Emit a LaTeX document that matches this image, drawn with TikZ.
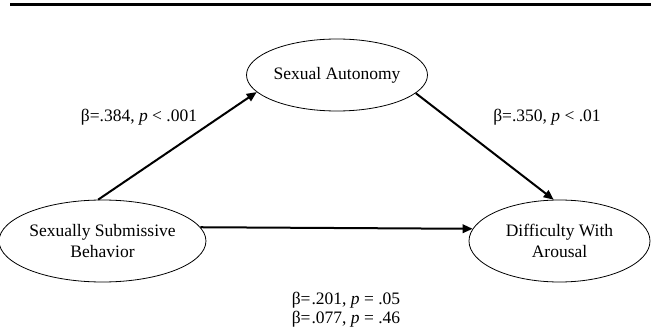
\documentclass[tikz,border=0pt]{standalone}
\usepackage{fontspec}
\setmainfont{Liberation Serif}
\usetikzlibrary{shapes.geometric,arrows.meta}
\begin{document}
\begin{tikzpicture}[x=1pt,y=-1pt,
  latent/.style={ellipse,draw,line width=0.8pt,inner sep=0pt,align=center,
    font=\fontsize{17.5}{21}\selectfont},
  path/.style={line width=2pt,-{Triangle[length=10pt,width=8.5pt]}},
  lbl/.style={font=\fontsize{17.5}{19}\selectfont,align=center,inner sep=0pt}]
\useasboundingbox (0,0) rectangle (651,334);
\fill[white] (0,0) rectangle (651,334);
\coordinate (rl) at (10,5);
\coordinate (rr) at (651,5);
\draw[line width=3pt] (rl) -- (rr);
\node[latent,minimum width=181pt,minimum height=72pt] (sa) at (337,75) {Sexual Autonomy};
\node[latent,minimum width=181pt,minimum height=82pt] (ssb) at (102.5,241) {Sexually Submissive\\Behavior};
\node[latent,minimum width=181pt,minimum height=82pt] (dwa) at (559.5,241) {Difficulty With\\Arousal};
\draw[path] (ssb.96) -- (sa.192);
\draw[path] (sa.-13) -- (dwa.98);
\draw[path] (ssb.8) -- (dwa.172);
\node[lbl] (l1) at (139,117) {β=.384, \textit{p} < .001};
\node[lbl] (l2) at (547,117) {β=.350, \textit{p} < .01};
\node[lbl] (l3) at (346,310) {β=\kern1pt.201, \textit{p} = .05\\β=\kern1pt.077, \textit{p} = .46};
\end{tikzpicture}
\end{document}
